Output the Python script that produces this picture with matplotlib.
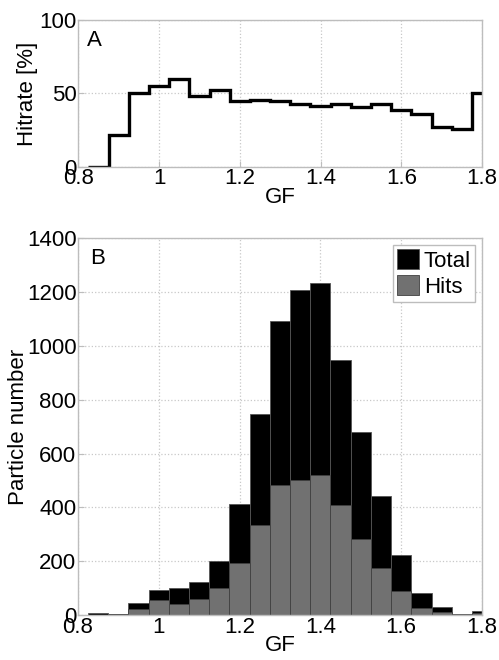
import numpy as np
import matplotlib
matplotlib.use('Agg')
import matplotlib.pyplot as plt

plt.rcParams['font.family'] = ['Liberation Sans', 'DejaVu Sans']

# bin centres of the GF histogram
gf = [0.85, 0.90, 0.95, 1.00, 1.05, 1.10, 1.15, 1.20, 1.25, 1.30,
      1.35, 1.40, 1.45, 1.50, 1.55, 1.60, 1.65, 1.70, 1.75, 1.80]
hitrate = [0, 22, 50, 55, 60, 48.5, 52.5, 44.5, 45.5, 45,
           43, 41.5, 42.5, 40.5, 43, 38.5, 36, 27.5, 26, 50]
total = [8, 6, 45, 93, 99, 124, 202, 412, 746, 1091,
         1208, 1233, 946, 679, 441, 223, 83, 31, 6, 15]
hits = [2, 3, 21, 56, 43, 61, 100, 192, 334, 482,
        503, 519, 408, 284, 176, 90, 25, 10, 2, 7]
bw = 0.05

frame = '#bdbdbd'
fs = 16

fig = plt.figure(figsize=(4.99, 6.60), dpi=100)
axA = fig.add_axes([0.157, 0.747, 0.809, 0.223])
axB = fig.add_axes([0.156, 0.068, 0.810, 0.571])

def style(ax):
    for s in ax.spines.values():
        s.set_color(frame)
        s.set_linewidth(1.0)
    ax.tick_params(direction='in', length=4, color=frame, labelsize=fs, pad=1)
    ax.grid(True, linestyle=':', color='#c8c8c8', linewidth=0.9)
    ax.set_axisbelow(True)
    ax.set_xlim(0.8, 1.8)
    ax.set_xticks([0.8, 1.0, 1.2, 1.4, 1.6, 1.8])
    ax.set_xticklabels(['0.8', '1', '1.2', '1.4', '1.6', '1.8'])

# panel A: hit rate
edges = np.append(np.array(gf) - bw / 2, gf[-1] + bw / 2)
axA.stairs(hitrate, edges, color='black', linewidth=2.4, baseline=None)
style(axA)
axA.set_ylim(0, 100)
axA.set_yticks([0, 50, 100])
axA.set_xlabel('GF', fontsize=fs, labelpad=-2)
axA.set_ylabel('Hitrate [%]', fontsize=fs, labelpad=1)
axA.text(0.022, 0.93, 'A', transform=axA.transAxes, fontsize=fs, va='top')

# panel B: particle numbers
axB.bar(gf, total, width=bw, color='black', edgecolor='#555555', linewidth=0.6, label='Total')
axB.bar(gf, hits, width=bw, color='#717171', edgecolor='#404040', linewidth=0.6, label='Hits')
style(axB)
axB.set_ylim(0, 1400)
axB.set_yticks(range(0, 1401, 200))
axB.set_xlabel('GF', fontsize=fs, labelpad=-2)
axB.set_ylabel('Particle number', fontsize=fs, labelpad=-1.5)
axB.text(0.03, 0.975, 'B', transform=axB.transAxes, fontsize=fs, va='top')
leg = axB.legend(loc='upper right', fontsize=fs, fancybox=False, framealpha=1,
                 handlelength=1.0, handleheight=1.0, handletextpad=0.2,
                 borderpad=0.2, labelspacing=0.15, borderaxespad=0.3)
leg.get_frame().set_edgecolor(frame)

fig.savefig('out.png', dpi=100)
